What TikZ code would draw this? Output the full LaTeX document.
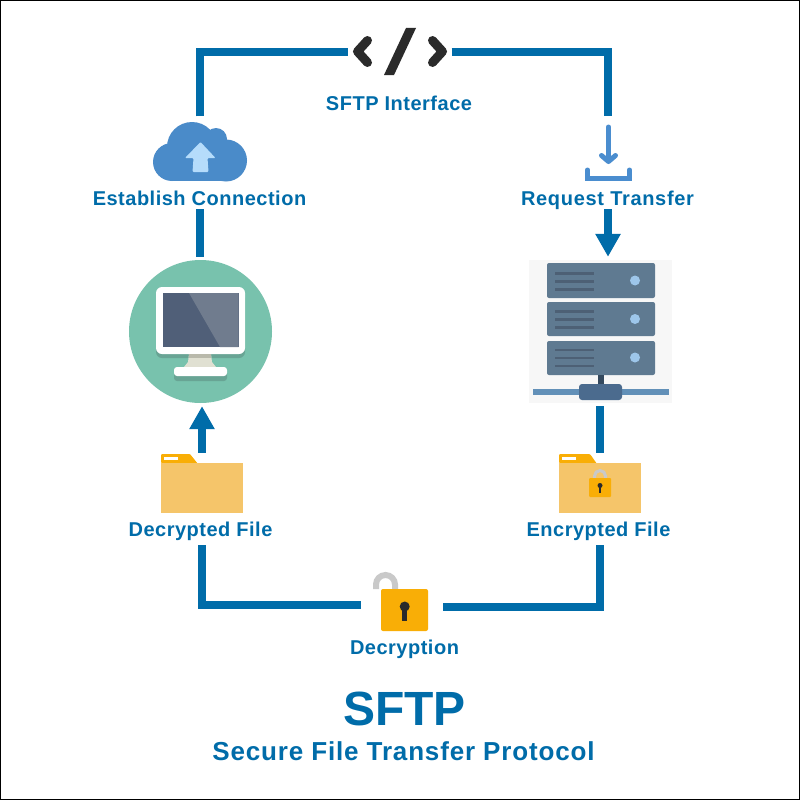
\documentclass[tikz,border=0pt]{standalone}
\usepackage{fontspec}
\setmainfont{Liberation Sans}
\usetikzlibrary{arrows.meta}
\definecolor{flowblue}{HTML}{006CA9}
\definecolor{cloudblue}{HTML}{4A8BC9}
\definecolor{arrowpale}{HTML}{B5DCFB}
\definecolor{iconblue}{HTML}{4A8DCF}
\definecolor{codegray}{HTML}{2B2B2B}
\definecolor{folderbody}{HTML}{F5C56A}
\definecolor{foldertab}{HTML}{F9AE06}
\definecolor{shacklegray}{HTML}{C9C9C9}
\definecolor{discgreen}{HTML}{78C2AD}
\definecolor{shadegreen}{HTML}{68A494}
\definecolor{screendark}{HTML}{505F78}
\definecolor{screenlight}{HTML}{707C8E}
\definecolor{standpale}{HTML}{E0E0D2}
\definecolor{standdark}{HTML}{B9B9AB}
\definecolor{rackblue}{HTML}{5F7A91}
\definecolor{rackline}{HTML}{4D6075}
\definecolor{rackdot}{HTML}{9DC6EA}
\definecolor{rackstem}{HTML}{34495E}
\definecolor{netbar}{HTML}{6290B8}
\definecolor{nethub}{HTML}{4B6B8E}
\tikzset{
    flowline/.style={draw=flowblue, line width=8pt},
    flowarrow/.style={flowline, -{Triangle[width=24pt,length=23pt]}},
    caption/.style={text=flowblue, font=\fontsize{20}{24}\selectfont\bfseries\addfontfeatures{LetterSpace=2.5}, inner sep=0pt, text height=14pt, text depth=4pt},
    iconbox/.style={inner sep=0pt, minimum width=#1},
    codemark/.style={draw=codegray, line width=9pt, line cap=round, line join=round},
    rackunit/.style={fill=rackblue, rounded corners=2pt},
    rackbar/.style={draw=rackline, line width=2.5pt},
    shackle/.style={draw=shacklegray, line cap=butt}
}
\begin{document}
\begin{tikzpicture}[x=1pt, y=-1pt]
    \useasboundingbox (0, 0) rectangle (800, 800);
    \fill[white] (0, 0) rectangle (800, 800);
    \draw[black, line width=1.2pt] (0.6, 0.6) rectangle (799.4, 799.4);

    \node[iconbox=103pt, minimum height=60pt] (codeicon) at (400, 52) {};
    \node[iconbox=94pt, minimum height=66pt] (cloudicon) at (200, 149.5) {};
    \node[iconbox=48pt, minimum height=66pt] (downloadicon) at (608, 149.5) {};
    \node[iconbox=143pt, minimum height=149pt] (monitoricon) at (200, 331.5) {};
    \node[iconbox=143pt, minimum height=149pt] (servericon) at (600.5, 331.5) {};
    \node[iconbox=82pt, minimum height=61pt] (plainfolder) at (202, 483.5) {};
    \node[iconbox=82pt, minimum height=61pt] (lockedfolder) at (600, 483.5) {};
    \node[iconbox=82pt, minimum height=60pt] (lockicon) at (402, 606) {};

    \node[caption] at (399, 105) (interface) {SFTP Interface};
    \node[caption] at (199.5, 200) (establish) {Establish Connection};
    \node[caption, font=\fontsize{20}{24}\selectfont\bfseries\addfontfeatures{LetterSpace=3.4}] at (607.5, 200) (request) {Request Transfer};
    \node[caption, minimum height=28pt] at (200.5, 531) (decrypted) {Decrypted File};
    \node[caption, minimum height=28pt] at (598.5, 531) (encrypted) {Encrypted File};
    \node[caption] at (404.5, 649) (decryption) {Decryption};
    \node[caption, font=\fontsize{48}{54}\selectfont\bfseries, text height=34.4pt, text depth=0pt] at (404.5, 707.8) (title) {SFTP};
    \node[caption, font=\fontsize{26}{30}\selectfont\bfseries\addfontfeatures{LetterSpace=3.2}, text height=18.6pt, text depth=5.5pt] at (403.5, 753.45) (subtitle) {Secure File Transfer Protocol};

    \draw[flowline] (cloudicon.north) |- (codeicon.west);
    \draw[flowline] (codeicon.east) -| (downloadicon.north);
    \draw[flowline] (monitoricon.north) -- (monitoricon.north |- establish.south);
    \draw[flowarrow] (downloadicon.south |- request.south) -- (downloadicon.south |- servericon.north);
    \draw[flowarrow] (plainfolder.north) -- (plainfolder.north |- monitoricon.south);
    \draw[flowline] (lockedfolder.north) -- (lockedfolder.north |- servericon.south);
    \draw[flowline] ([yshift=1pt]lockicon.west) -| (plainfolder |- decrypted.south);
    \draw[flowline] ([yshift=-1pt]lockicon.east) -| (lockedfolder |- encrypted.south);

    \draw[codemark] (367.5, 40.5) -- (357.5, 51.5) -- (367.5, 62.5);
    \draw[codemark] (432.5, 40.5) -- (442.5, 51.5) -- (432.5, 62.5);
    \fill[codegray] (406, 28) -- (416, 28) -- (394, 75) -- (384, 75) -- cycle;

    \fill[cloudblue] (172, 162) circle (19);
    \fill[cloudblue] (226, 160.5) circle (21);
    \fill[cloudblue] (192, 147) circle (25);
    \fill[cloudblue] (216, 139) circle (11);
    \fill[cloudblue] (206, 152) circle (22);
    \fill[cloudblue] (172, 160) rectangle (228, 181);
    \fill[arrowpale, rounded corners=1pt] (200.5, 142) -- (215.5, 158) -- (207.5, 158) -- (208.5, 172) -- (192.5, 172) -- (193.5, 158) -- (185, 158) -- cycle;

    \draw[iconblue, line width=5pt, line cap=round] (608.5, 127) -- (608.5, 160);
    \draw[iconblue, line width=5pt, line cap=round, line join=round] (601.5, 155.5) -- (608.5, 161.5) -- (615.5, 155.5);
    \draw[iconblue, line width=5pt, line cap=round, line join=miter] (587.5, 170) -- (587.5, 178.5) -- (629.5, 178.5) -- (629.5, 170);

    \fill[discgreen] (200.5, 331.5) circle (71.5);
    \fill[shadegreen, rounded corners=6pt] (156, 292) rectangle (245, 358);
    \fill[white, rounded corners=6pt] (156, 287) rectangle (245, 354);
    \fill[screendark] (163, 293) rectangle (238.7, 347);
    \fill[screenlight] (189, 293) -- (238.7, 293) -- (238.7, 347) -- (220, 347) -- cycle;
    \fill[standpale] (189, 354) -- (211, 354) -- (212, 362) -- (216, 367) -- (184, 367) -- (188, 362) -- cycle;
    \fill[standdark] (189, 354) rectangle (211, 358);
    \fill[shadegreen, rounded corners=3pt] (174, 370) rectangle (227, 381);
    \fill[white, rounded corners=3pt] (174, 367) rectangle (227, 376);

    \fill[black!3] (529, 260) rectangle (672, 403);
    \fill[rackunit] (547, 263) rectangle (655, 298);
    \fill[rackunit] (547, 302) rectangle (655, 336);
    \fill[rackunit] (547, 341) rectangle (655, 375);
    \draw[rackbar] (555, 273.5) -- (594, 273.5);
    \draw[rackbar] (555, 281.5) -- (594, 281.5);
    \draw[rackbar] (555, 289.5) -- (594, 289.5);
    \draw[rackbar] (555, 311.5) -- (594, 311.5);
    \draw[rackbar] (555, 319.5) -- (594, 319.5);
    \draw[rackbar] (555, 327.5) -- (594, 327.5);
    \draw[rackbar] (555, 350) -- (594, 350);
    \draw[rackbar] (555, 358) -- (594, 358);
    \draw[rackbar] (555, 366) -- (594, 366);
    \fill[rackdot] (635, 280.5) circle (5);
    \fill[rackdot] (635, 319) circle (5);
    \fill[rackdot] (635, 357.5) circle (5);
    \fill[rackstem] (598, 375) rectangle (604, 384);
    \fill[netbar] (533, 389) rectangle (669, 395);
    \fill[nethub, rounded corners=3pt] (579, 384) rectangle (622, 400);

    \fill[foldertab, rounded corners=1pt] (161, 463) -- (161, 454) -- (190, 454) -- (198, 464) -- cycle;
    \fill[white] (164, 457) rectangle (178, 460);
    \fill[folderbody] (161, 463) rectangle (243, 513);

    \fill[foldertab, rounded corners=1pt] (559, 463) -- (559, 454) -- (590, 454) -- (597, 464) -- cycle;
    \fill[white] (562, 457) rectangle (576, 460);
    \fill[folderbody] (559, 463) rectangle (641, 513);
    \draw[shackle, line width=3pt] (594.5, 478) -- (594.5, 476) arc[start angle=180, end angle=360, radius=5.5] -- (605.5, 478);
    \fill[foldertab, rounded corners=1pt] (589, 478) rectangle (611, 497);
    \fill[codegray] (600, 485.5) circle (2.5);
    \fill[codegray] (598.8, 486) rectangle (601.2, 492.5);

    \draw[shackle, line width=6pt] (376, 589) -- (376, 584.5) arc[start angle=180, end angle=360, radius=9.5] -- (395, 589);
    \fill[foldertab, rounded corners=2pt] (381, 589) rectangle (428, 631);
    \fill[codegray] (404.7, 606.5) circle (5);
    \fill[codegray] (402, 607) rectangle (407.4, 620.5);
\end{tikzpicture}
\end{document}
